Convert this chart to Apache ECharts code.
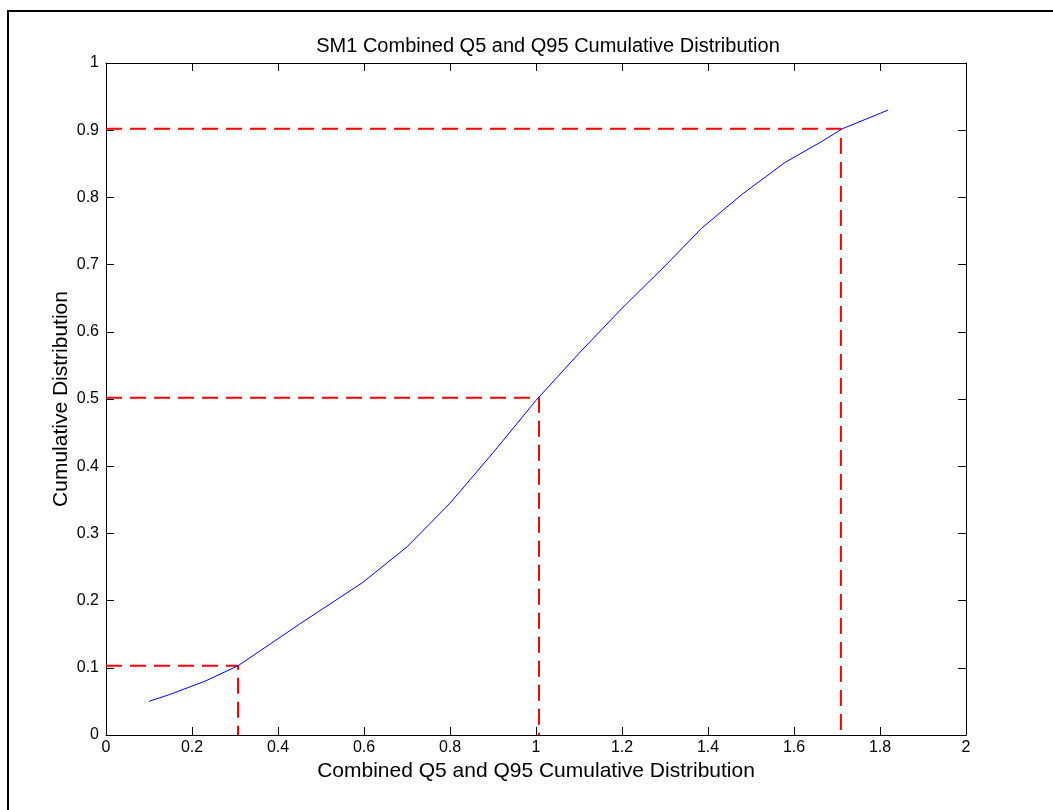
<!DOCTYPE html>
<html>
<head>
<meta charset="utf-8">
<script src="https://cdn.jsdelivr.net/npm/echarts@6/dist/echarts.min.js"></script>
<style>
html,body{margin:0;padding:0;background:#fff;}
#chart{width:1053px;height:810px;}
</style>
</head>
<body>
<div id="chart"></div>
<script>
// Curve: combined Q5 and Q95 values (x) and cumulative distribution (y)
const curveX = [0.1, 0.147, 0.23, 0.307, 0.45, 0.597, 0.7, 0.8, 0.9, 1.0, 1.1, 1.2, 1.3, 1.385, 1.48, 1.579, 1.664, 1.712, 1.819];
const curveY = [0.05, 0.06, 0.08, 0.103, 0.165, 0.227, 0.28, 0.345, 0.42, 0.498, 0.568, 0.635, 0.698, 0.754, 0.805, 0.852, 0.883, 0.902, 0.93];
// Quantile markers (x value, cumulative level)
const quantX = [0.307, 1.007, 1.709];
const quantY = [0.103, 0.502, 0.902];

const titleText = 'SM1 Combined Q5 and Q95 Cumulative Distribution';
const xLabel = 'Combined Q5 and Q95 Cumulative Distribution';
const yLabel = 'Cumulative Distribution';

const font = 'Liberation Sans, Arial, sans-serif';
const curve = curveX.map((x, i) => [x, curveY[i]]);

const dashSeries = quantX.map((qx, i) => ({
  type: 'line',
  data: [[0, quantY[i]], [qx, quantY[i]], [qx, 0]],
  symbol: 'none',
  silent: true,
  z: 3,
  lineStyle: { color: '#ff0000', width: 2, type: [16, 8] }
}));

const chart = echarts.init(document.getElementById('chart'), null, { renderer: 'canvas' });
function axisCommon() {
  return {
    axisLine: { onZero: false, lineStyle: { color: '#000', width: 1 } },
    axisTick: { inside: true, length: 8, lineStyle: { color: '#000' } },
    splitLine: { show: false }
  };
}
chart.setOption({
  backgroundColor: '#fff',
  animation: false,
  title: {
    text: titleText,
    left: 543, top: 31, textAlign: 'center',
    textStyle: { fontFamily: font, fontSize: 20, fontWeight: 'normal', color: '#000' }
  },
  grid: { left: 106, top: 63, right: 87, bottom: 75, containLabel: false },
  xAxis: [
    Object.assign({
      type: 'value', min: 0, max: 2, interval: 0.2, position: 'bottom',
      name: xLabel, nameLocation: 'middle', nameGap: 24,
      nameTextStyle: { fontFamily: font, fontSize: 21, color: '#000' },
      axisLabel: { fontFamily: font, fontSize: 16, color: '#000', margin: 5 }
    }, axisCommon()),
    Object.assign({
      type: 'value', min: 0, max: 2, interval: 0.2, position: 'top',
      axisLabel: { show: false }
    }, axisCommon())
  ],
  yAxis: [
    Object.assign({
      type: 'value', min: 0, max: 1, interval: 0.1, position: 'left',
      name: yLabel, nameLocation: 'middle', nameGap: 34, nameMoveOverlap: false,
      nameTextStyle: { fontFamily: font, fontSize: 21, color: '#000' },
      axisLabel: { fontFamily: font, fontSize: 16, color: '#000', margin: 7 }
    }, axisCommon()),
    Object.assign({
      type: 'value', min: 0, max: 1, interval: 0.1, position: 'right',
      axisLabel: { show: false }
    }, axisCommon())
  ],
  graphic: [{
    type: 'rect',
    shape: { x: 8, y: 11, width: 1100, height: 900 },
    style: { fill: 'none', stroke: '#000', lineWidth: 2 },
    silent: true
  }],
  series: [{
    type: 'line',
    data: curve,
    symbol: 'none',
    z: 4,
    lineStyle: { color: '#0000ff', width: 1 }
  }].concat(dashSeries)
});
</script>
</body>
</html>
